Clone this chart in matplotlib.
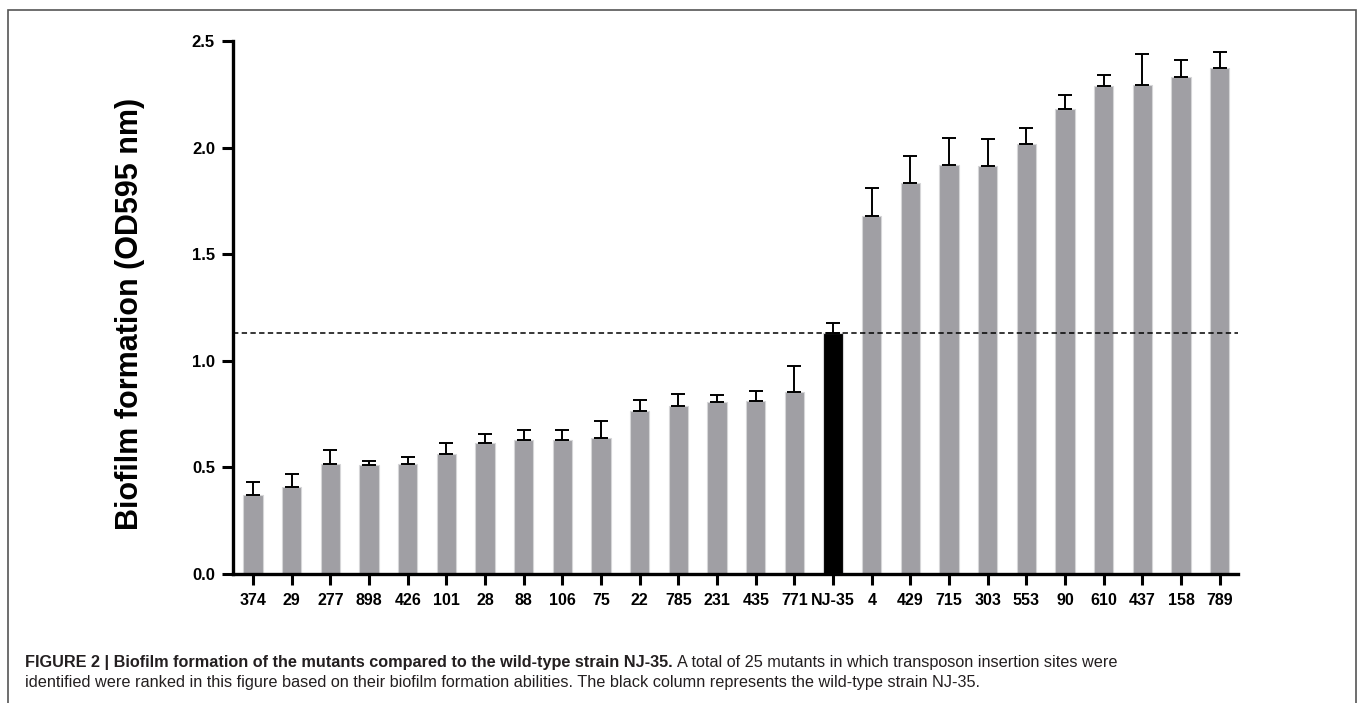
import matplotlib
matplotlib.use("Agg")
import matplotlib.pyplot as plt
import matplotlib.patches as patches
import numpy as np

# strains, ranked by biofilm formation
strains = ['374', '29', '277', '898', '426', '101', '28', '88', '106', '75',
           '22', '785', '231', '435', '771', 'NJ-35', '4', '429', '715', '303',
           '553', '90', '610', '437', '158', '789']
# mean OD595 values
od_mean = [0.370, 0.407, 0.514, 0.511, 0.516, 0.561, 0.616, 0.628, 0.627, 0.639,
           0.763, 0.790, 0.807, 0.810, 0.852, 1.129, 1.677, 1.832, 1.918, 1.915,
           2.015, 2.180, 2.289, 2.294, 2.330, 2.372]
# upper error (SD)
od_err = [0.063, 0.061, 0.066, 0.019, 0.034, 0.052, 0.042, 0.047, 0.048, 0.079,
          0.055, 0.056, 0.034, 0.050, 0.125, 0.047, 0.132, 0.128, 0.128, 0.127,
          0.078, 0.067, 0.053, 0.145, 0.080, 0.076]
wild_type = 'NJ-35'

plt.rcParams['font.family'] = ['Liberation Sans', 'DejaVu Sans']

fig = plt.figure(figsize=(13.6, 7.03), dpi=100)
ax = fig.add_axes([233/1360, 1-574/703, (1238-233)/1360, (574-41)/703])

x = np.arange(len(strains))
colors = ['black' if s == wild_type else '#a09fa4' for s in strains]
ax.bar(x, od_mean, width=0.5, color=colors, edgecolor='#d6d6d8', linewidth=0.8, zorder=2)
ax.errorbar(x, od_mean, yerr=[np.zeros(len(od_err)), od_err], fmt='none',
            ecolor='black', elinewidth=1.4, capsize=5, capthick=1.4, zorder=3)

# wild-type reference line
wt = od_mean[strains.index(wild_type)]
ax.axhline(wt, color='black', lw=1.1, dashes=(3.5, 2.2), zorder=4)

ax.set_xlim(-0.52, 25.47)
ax.set_ylim(0, 2.5)
ax.set_yticks([0.0, 0.5, 1.0, 1.5, 2.0, 2.5])
ax.set_yticklabels(['0.0', '0.5', '1.0', '1.5', '2.0', '2.5'])
ax.set_xticks(x)
ax.set_xticklabels(strains)

for side in ['top', 'right']:
    ax.spines[side].set_visible(False)
for side in ['left', 'bottom']:
    ax.spines[side].set_linewidth(2.4)
ax.tick_params(axis='both', width=2.2, length=8)
ax.tick_params(axis='x', pad=6, labelsize=11.5)
ax.tick_params(axis='y', pad=5, labelsize=12)
for lab in ax.get_xticklabels() + ax.get_yticklabels():
    lab.set_fontweight('bold')

ax.set_ylabel('Biofilm formation (OD595 nm)', fontsize=22, fontweight='bold')
ax.yaxis.set_label_coords(-0.088, 0.488)

# outer frame of the figure panel
fig.patches.append(patches.Rectangle((8/1360, -0.02), (1356-8)/1360, 1.02-10/703,
                                     transform=fig.transFigure, fill=False,
                                     edgecolor='#555555', lw=1.2))

# caption
cap_size = 11.7
t1 = fig.text(25/1360, 1-667/703, 'FIGURE 2 | Biofilm formation of the mutants compared to the wild-type strain NJ-35.',
              fontsize=cap_size, fontweight='bold', color='#231f20', va='baseline')
fig.canvas.draw()
bb = t1.get_window_extent()
fig.text(bb.x1/1360 + 4/1360, 1-667/703,
         'A total of 25 mutants in which transposon insertion sites were',
         fontsize=cap_size, color='#231f20', va='baseline')
fig.text(25/1360, 1-687/703,
         'identified were ranked in this figure based on their biofilm formation abilities. The black column represents the wild-type strain NJ-35.',
         fontsize=cap_size, color='#231f20', va='baseline')

fig.savefig('out.png', dpi=100)
